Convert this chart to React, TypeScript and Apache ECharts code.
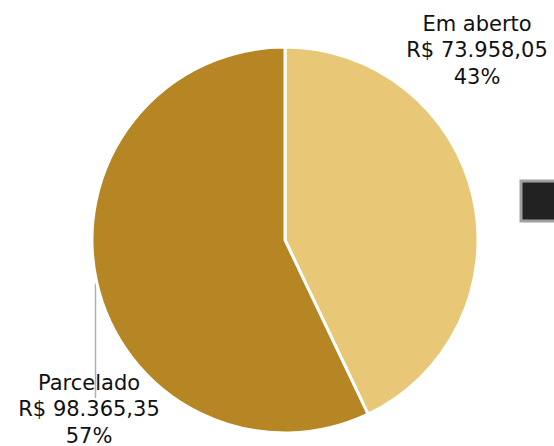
import React, { useEffect, useRef } from "react";
import * as echarts from "echarts";

const categories = ["Em aberto", "Parcelado"];
const values = [73958.05, 98365.35];
const percents = ["43%", "57%"];
const colors = ["#E8C876", "#B58623"];

function brl(v: number): string {
  const [i, d] = v.toFixed(2).split(".");
  const withDots = i.replace(/\B(?=(\d{3})+(?!\d))/g, ".");
  return "R$ " + withDots + "," + d;
}

export default function App() {
  const ref = useRef<HTMLDivElement>(null);
  useEffect(() => {
    if (!ref.current) return;
    const chart = echarts.init(ref.current, undefined, { renderer: "svg" });
    const labelPos = [
      { x: 477, y: 50 },
      { x: 89, y: 409 },
    ];
    chart.setOption({
      animation: false,
      graphic: [
        {
          type: "rect",
          shape: { x: 521, y: 181, width: 40, height: 40 },
          style: { fill: "#222222", stroke: "#a0a0a0", lineWidth: 3 },
        },
        {
          type: "line",
          shape: { x1: 95.5, y1: 283, x2: 95.5, y2: 398 },
          style: { stroke: "#b0b0b0", lineWidth: 1.5 },
          z: 0,
        },
      ],
      series: [
        {
          type: "pie",
          center: [285, 240],
          radius: 193,
          startAngle: 90,
          clockwise: true,
          itemStyle: { borderColor: "#ffffff", borderWidth: 3 },
          label: {
            show: true,
            position: "outside",
            alignTo: "none",
            overflow: "none",
            width: 300,
            fontFamily: "DejaVu Sans",
            fontSize: 21,
            lineHeight: 26.5,
            color: "#111111",
            align: "center",
            formatter: (p: any) =>
              p.name + "\n" + brl(p.value) + "\n" + percents[p.dataIndex],
          },
          labelLine: { show: false },
          labelLayout: (params: any) => ({
            x: labelPos[params.dataIndex].x,
            y: labelPos[params.dataIndex].y,
            align: "center",
            verticalAlign: "middle",
          }),
          emphasis: { disabled: true },
          data: categories.map((c, i) => ({
            name: c,
            value: values[i],
            itemStyle: { color: colors[i] },
          })),
        },
      ],
    });
    return () => chart.dispose();
  }, []);
  return <div ref={ref} style={{ width: 554, height: 446, position: "absolute", left: 0, top: 0 }} />;
}
